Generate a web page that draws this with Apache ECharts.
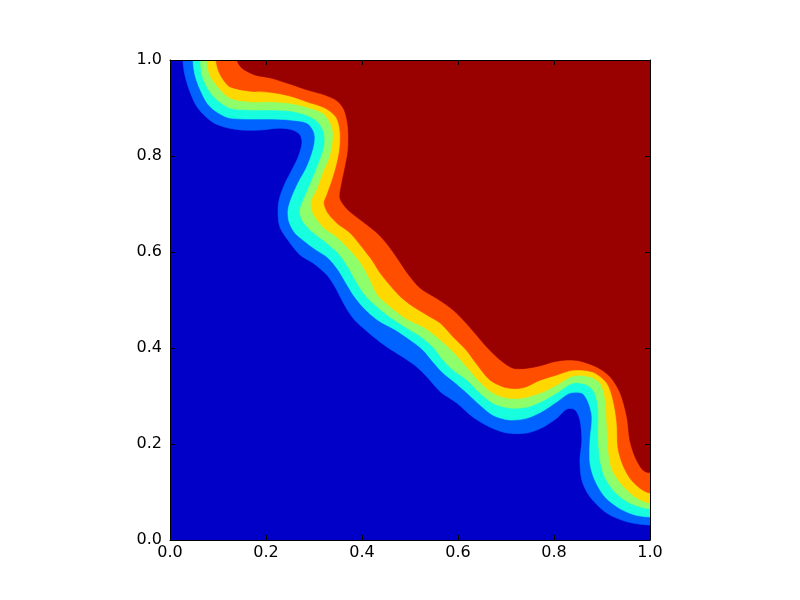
<!DOCTYPE html>
<html><head><meta charset="utf-8">
<script src="https://cdn.jsdelivr.net/npm/echarts@6/dist/echarts.min.js"></script>
<style>html,body{margin:0;padding:0;background:#fff}#c{width:800px;height:600px}</style>
</head><body><div id="c"></div>
<script>
// Tick values of both axes
const tickValues = [0.0, 0.2, 0.4, 0.6, 0.8, 1.0];

// Contour boundaries, as [x, y] points from the top edge to the right edge.
const edgeLevel1 = [[0.027,1.000],[0.031,0.969],[0.042,0.933],[0.058,0.900],[0.088,0.871],[0.115,0.860],[0.150,0.854],[0.188,0.854],[0.229,0.858],[0.256,0.854],[0.271,0.844],[0.275,0.827],[0.267,0.798],[0.254,0.771],[0.240,0.744],[0.229,0.715],[0.225,0.688],[0.229,0.652],[0.250,0.619],[0.271,0.594],[0.298,0.577],[0.327,0.552],[0.344,0.527],[0.358,0.500],[0.371,0.477],[0.385,0.458],[0.402,0.442],[0.423,0.424],[0.452,0.402],[0.485,0.381],[0.515,0.360],[0.537,0.338],[0.563,0.309],[0.598,0.285],[0.631,0.256],[0.667,0.235],[0.702,0.223],[0.744,0.223],[0.777,0.235],[0.806,0.254],[0.827,0.273],[0.844,0.271],[0.854,0.250],[0.858,0.208],[0.854,0.167],[0.858,0.125],[0.875,0.090],[0.910,0.056],[0.952,0.038],[1.000,0.031]];
const edgeLevel2 = [[0.048,1.000],[0.052,0.969],[0.063,0.938],[0.079,0.908],[0.100,0.890],[0.125,0.879],[0.167,0.877],[0.208,0.877],[0.250,0.875],[0.285,0.869],[0.298,0.854],[0.302,0.838],[0.298,0.813],[0.285,0.777],[0.267,0.744],[0.254,0.715],[0.246,0.688],[0.248,0.663],[0.260,0.640],[0.277,0.625],[0.302,0.606],[0.329,0.588],[0.350,0.563],[0.367,0.535],[0.385,0.506],[0.408,0.479],[0.433,0.458],[0.469,0.438],[0.500,0.417],[0.527,0.396],[0.548,0.371],[0.569,0.348],[0.590,0.331],[0.619,0.306],[0.646,0.281],[0.673,0.260],[0.708,0.250],[0.744,0.254],[0.777,0.269],[0.806,0.288],[0.833,0.306],[0.858,0.306],[0.871,0.288],[0.879,0.256],[0.875,0.208],[0.875,0.160],[0.885,0.125],[0.906,0.090],[0.938,0.065],[0.969,0.052],[1.000,0.048]];
const edgeLevel3 = [[0.063,1.000],[0.067,0.969],[0.077,0.944],[0.094,0.921],[0.125,0.900],[0.167,0.896],[0.208,0.896],[0.250,0.894],[0.285,0.885],[0.308,0.871],[0.321,0.848],[0.321,0.819],[0.310,0.785],[0.296,0.750],[0.281,0.715],[0.271,0.688],[0.275,0.667],[0.292,0.646],[0.319,0.625],[0.350,0.598],[0.371,0.569],[0.390,0.535],[0.410,0.506],[0.433,0.485],[0.458,0.465],[0.490,0.444],[0.521,0.425],[0.548,0.402],[0.569,0.375],[0.590,0.354],[0.619,0.333],[0.646,0.306],[0.673,0.285],[0.708,0.275],[0.744,0.277],[0.777,0.290],[0.808,0.308],[0.840,0.327],[0.869,0.323],[0.885,0.306],[0.892,0.271],[0.892,0.215],[0.896,0.167],[0.906,0.131],[0.927,0.100],[0.958,0.077],[1.000,0.065]];
const edgeLevel4 = [[0.077,1.000],[0.083,0.969],[0.098,0.946],[0.125,0.921],[0.167,0.913],[0.208,0.913],[0.250,0.910],[0.285,0.902],[0.317,0.890],[0.333,0.871],[0.340,0.844],[0.333,0.798],[0.319,0.765],[0.306,0.729],[0.294,0.704],[0.298,0.681],[0.319,0.652],[0.348,0.631],[0.375,0.604],[0.396,0.579],[0.415,0.546],[0.433,0.510],[0.463,0.483],[0.494,0.460],[0.531,0.442],[0.563,0.417],[0.590,0.392],[0.619,0.360],[0.646,0.329],[0.673,0.306],[0.702,0.296],[0.735,0.296],[0.771,0.306],[0.806,0.323],[0.840,0.342],[0.875,0.340],[0.896,0.327],[0.906,0.298],[0.910,0.244],[0.913,0.188],[0.921,0.146],[0.942,0.115],[0.969,0.090],[1.000,0.077]];
const edgeLevel5 = [[0.096,1.000],[0.102,0.975],[0.113,0.956],[0.125,0.944],[0.167,0.935],[0.208,0.933],[0.250,0.925],[0.285,0.913],[0.323,0.900],[0.346,0.881],[0.354,0.854],[0.354,0.819],[0.348,0.785],[0.338,0.750],[0.327,0.719],[0.321,0.702],[0.329,0.681],[0.348,0.660],[0.375,0.640],[0.400,0.610],[0.421,0.583],[0.438,0.556],[0.458,0.531],[0.479,0.508],[0.504,0.488],[0.535,0.469],[0.563,0.452],[0.590,0.423],[0.617,0.396],[0.640,0.365],[0.667,0.333],[0.702,0.317],[0.735,0.317],[0.771,0.333],[0.806,0.344],[0.840,0.354],[0.881,0.350],[0.910,0.327],[0.923,0.292],[0.931,0.244],[0.933,0.194],[0.942,0.160],[0.958,0.129],[0.979,0.108],[1.000,0.098]];
const edgeLevel6 = [[0.140,1.000],[0.150,0.983],[0.177,0.969],[0.208,0.963],[0.250,0.950],[0.285,0.938],[0.323,0.927],[0.348,0.915],[0.363,0.896],[0.371,0.860],[0.371,0.813],[0.365,0.777],[0.358,0.744],[0.354,0.713],[0.365,0.694],[0.381,0.679],[0.406,0.660],[0.431,0.640],[0.452,0.617],[0.475,0.585],[0.496,0.554],[0.521,0.525],[0.558,0.502],[0.590,0.479],[0.615,0.454],[0.635,0.431],[0.660,0.402],[0.688,0.375],[0.715,0.358],[0.744,0.358],[0.771,0.363],[0.798,0.371],[0.827,0.375],[0.854,0.373],[0.890,0.360],[0.917,0.340],[0.938,0.306],[0.952,0.256],[0.958,0.208],[0.969,0.173],[0.985,0.146],[1.000,0.140]];
// Whole domain (lowest band), and a frame just outside it used to close the upper regions
const domainCorners = [[-0.1,-0.1],[1.1,-0.1],[1.1,1.1],[-0.1,1.1]];
const outerX = 1.1, outerY = 1.1;

const bandColors = ['#0000c8','#0062ff','#18ffe0','#8eff6a','#ffd800','#ff4e00','#990000'];

function upperRegion(edge){
  const first = edge[0], last = edge[edge.length - 1];
  return edge.concat([[outerX, last[1]], [outerX, outerY], [first[0], outerY]]);
}
const regions = [domainCorners].concat([edgeLevel1, edgeLevel2, edgeLevel3, edgeLevel4, edgeLevel5, edgeLevel6].map(upperRegion));

function bandSeries(points, color, idx){
  return {
    type: 'custom', coordinateSystem: 'cartesian2d', clip: true, silent: true, z: 2,
    xAxisIndex: 0, yAxisIndex: 0,
    data: points,
    renderItem: function(params, api){
      if (params.dataIndex !== 0) return null;
      const pts = points.map(function(p){ return api.coord(p); });
      return { type: 'polygon', z2: idx, shape: { points: pts, smooth: idx === 0 ? 0 : 0.3 }, style: { fill: color, stroke: color, lineWidth: 0.6 } };
    }
  };
}

const font = { color: '#000', fontSize: 16, fontFamily: 'DejaVu Sans' };
function axis(pos, showLabel){
  const isX = pos === 'bottom' || pos === 'top';
  return {
    type: 'value', position: pos, min: tickValues[0], max: tickValues[tickValues.length-1], interval: 0.2, z: 10,
    axisLine: { show: true, onZero: false, lineStyle: { color: '#000', width: 1 } },
    axisTick: { show: true, inside: true, length: 5, lineStyle: { color: '#000', width: 1 } },
    axisLabel: Object.assign({ show: showLabel, margin: isX ? 5 : 8, formatter: function(v){ return v.toFixed(1); } }, font),
    splitLine: { show: false }
  };
}

const chart = echarts.init(document.getElementById('c'), null, { renderer: 'canvas' });
chart.setOption({
  animation: false,
  backgroundColor: '#fff',
  grid: { left: 170, right: 150, top: 60, bottom: 60, containLabel: false },
  xAxis: [axis('bottom', true), axis('top', false)],
  yAxis: [axis('left', true), axis('right', false)],
  series: regions.map(function(r, i){ return bandSeries(r, bandColors[i], i); })
});
</script>
</body></html>
